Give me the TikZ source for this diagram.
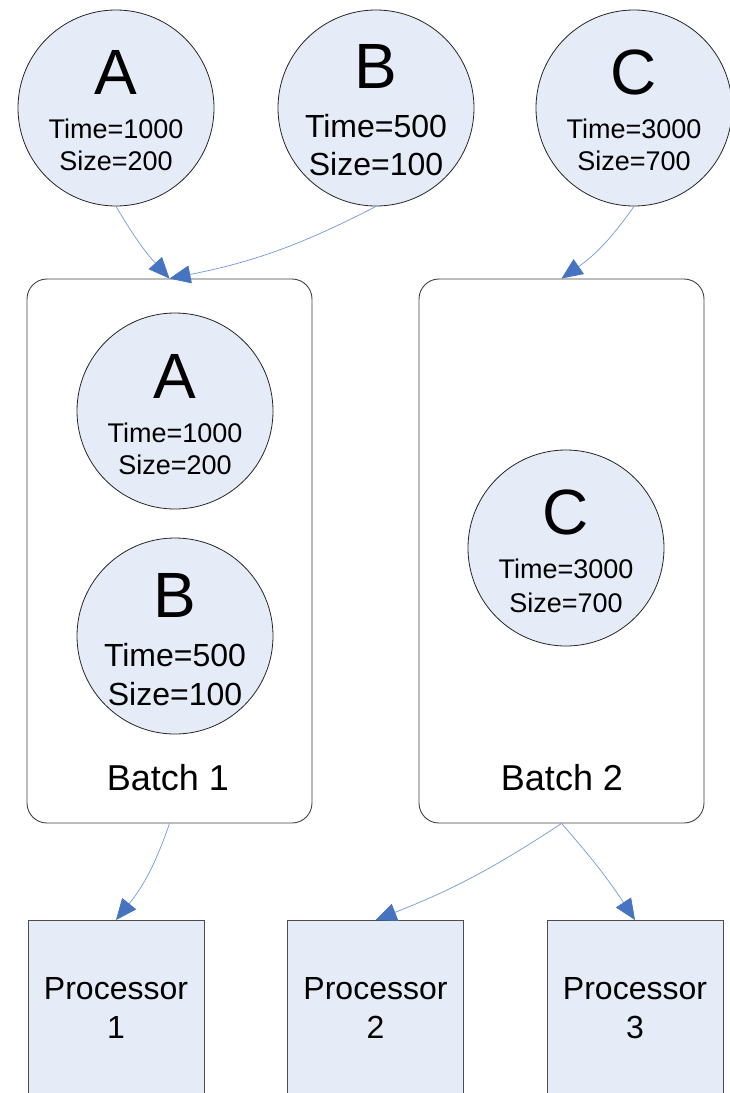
\documentclass[tikz,border=0pt]{standalone}
\usepackage{fontspec}
\setmainfont{Liberation Sans}
\usetikzlibrary{arrows.meta}
\definecolor{jobfill}{HTML}{E6ECF7}
\definecolor{linkline}{HTML}{6E9AD8}
\definecolor{linkhead}{HTML}{4674C1}

\begin{document}
\begin{tikzpicture}[x=1pt,y=-1pt,
    job/.style={circle, draw=black!85, fill=jobfill, line width=0.8pt, minimum size=196pt, inner sep=0pt},
    batch/.style={rectangle, rounded corners=20pt, draw=black!75, line width=0.9pt, minimum width=285pt, minimum height=544pt},
    proc/.style={rectangle, draw=black!70, fill=jobfill, line width=0.9pt, minimum width=176pt, minimum height=200pt, anchor=north},
    flow/.style={draw=linkline, line width=0.7pt, -{Triangle[length=21pt,width=18pt,color=linkhead]}},
    letter/.style={anchor=base, inner sep=0pt, font=\fontsize{64}{64}\selectfont},
    small/.style={anchor=base, inner sep=0pt, font=\fontsize{27}{27}\selectfont},
    large/.style={anchor=base, inner sep=0pt, font=\fontsize{32}{32}\selectfont},
    batchtxt/.style={anchor=base, inner sep=0pt, font=\fontsize{36}{36}\selectfont},
    proctxt/.style={anchor=base, inner sep=0pt, font=\fontsize{32}{32}\selectfont}]
    % Page frame
    \clip (0,0) rectangle (730,1093);

    % Batches
    \node[batch] (batch1) at (169.5,551) {};
    \node[batch] (batch2) at (561.5,551) {};
    \node[batchtxt] (batch1-name) at (168,790) {Batch 1};
    \node[batchtxt] (batch2-name) at (562,790) {Batch 2};

    % Jobs waiting on top
    \node[job] (jobA) at (116,108) {};
    \node[letter] (jobA-name) at (116,94) {A};
    \node[small] (jobA-time) at (116,138) {Time=1000};
    \node[small] (jobA-size) at (116,170) {Size=200};

    \node[job] (jobB) at (376,108) {};
    \node[letter] (jobB-name) at (376,88) {B};
    \node[large] (jobB-time) at (376,137) {Time=500};
    \node[large] (jobB-size) at (376,175) {Size=100};

    \node[job] (jobC) at (634,108) {};
    \node[letter] (jobC-name) at (634,94) {C};
    \node[small] (jobC-time) at (634,138) {Time=3000};
    \node[small] (jobC-size) at (634,170) {Size=700};

    % Jobs inside the batches
    \node[job] (inA) at (175,411) {};
    \node[letter] (inA-name) at (175,398) {A};
    \node[small] (inA-time) at (175,442) {Time=1000};
    \node[small] (inA-size) at (175,474) {Size=200};

    \node[job] (inB) at (175,636) {};
    \node[letter] (inB-name) at (175,617) {B};
    \node[large] (inB-time) at (175,666) {Time=500};
    \node[large] (inB-size) at (175,705) {Size=100};

    \node[job] (inC) at (566,548) {};
    \node[letter] (inC-name) at (566,534) {C};
    \node[small] (inC-time) at (566,578) {Time=3000};
    \node[small] (inC-size) at (566,612) {Size=700};

    % Processors
    \node[proc] (proc1) at (116,920) {};
    \node[proc] (proc2) at (375.5,920) {};
    \node[proc] (proc3) at (635,920) {};
    \node[proctxt] (proc1-name) at (116,999) {Processor};
    \node[proctxt] (proc1-num) at (116,1038) {1};
    \node[proctxt] (proc2-name) at (375.5,999) {Processor};
    \node[proctxt] (proc2-num) at (375.5,1038) {2};
    \node[proctxt] (proc3-name) at (635,999) {Processor};
    \node[proctxt] (proc3-num) at (635,1038) {3};

    % Connectors
    \draw[flow] (jobA.south) to[bend right=6] (batch1.north);
    \draw[flow] (jobB.south) to[bend left=8] (batch1.north);
    \draw[flow] (jobC.south) to[bend left=10] (batch2.north);
    \draw[flow] (batch1.south) to[bend left=10] (proc1.north);
    \draw[flow] (batch2.south) to[bend left=6] (proc2.north);
    \draw[flow] (batch2.south) to[bend left=4] (proc3.north);
\end{tikzpicture}
\end{document}
